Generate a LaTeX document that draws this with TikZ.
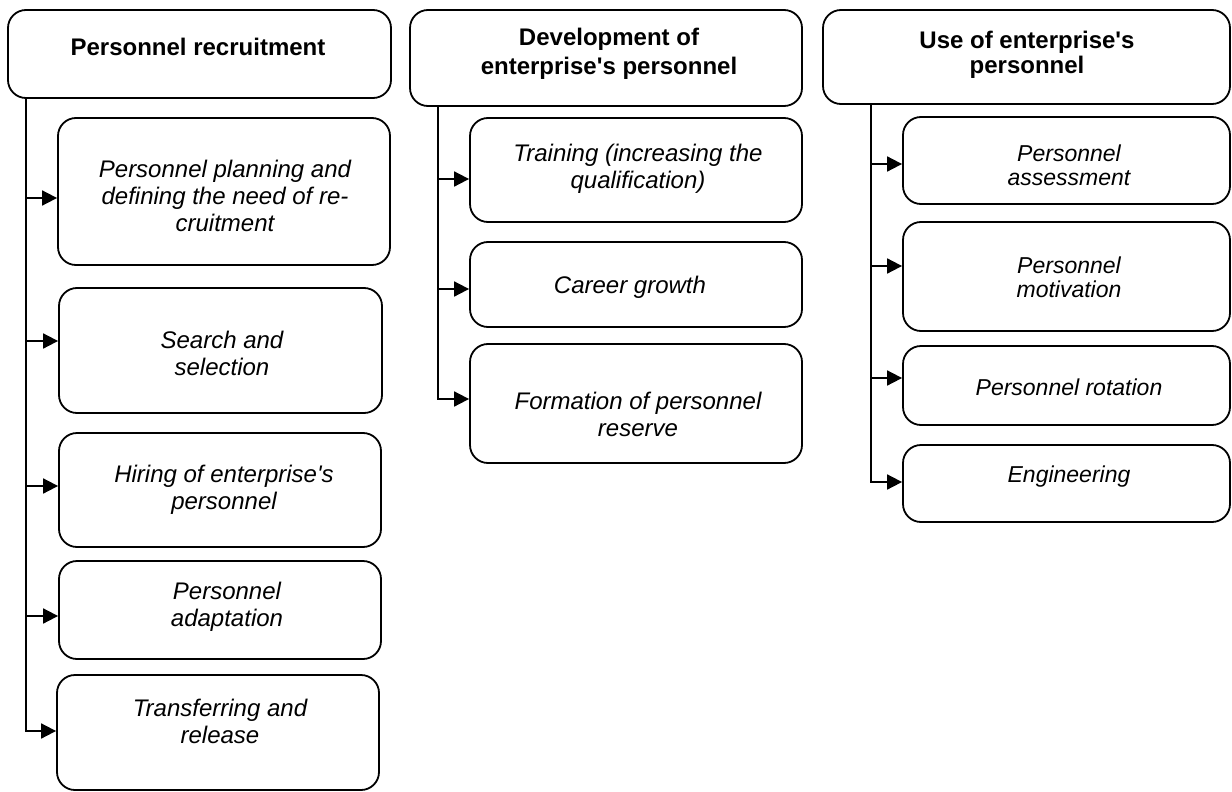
\documentclass[tikz,border=0pt]{standalone}
\usepackage{fontspec}
\setmainfont{Liberation Sans}[Ligatures=TeXOff]
\usetikzlibrary{arrows.meta}
\begin{document}
\begin{tikzpicture}[x=1pt,y=-1pt,
  box/.style={draw, line width=1.8pt, rounded corners=18pt, inner sep=0pt},
  hdr/.style={font=\fontsize{24}{29}\selectfont\bfseries, align=center, inner sep=0pt},
  txt/.style={font=\fontsize{24}{27}\selectfont\itshape, align=center, inner sep=0pt},
  txtc/.style={font=\fontsize{23}{24}\selectfont\itshape, align=center, inner sep=0pt},
  arr/.style={line width=1.8pt, -{Triangle[length=15pt,width=15pt]}}]
\useasboundingbox (0,0) rectangle (1232,792);
% boxes: (x1,y1) rectangle (x2,y2)
\newcommand\mybox[5]{\node[box, minimum width={#4-#2}, minimum height={#5-#3}] (#1) at ({(#2+#4)/2},{(#3+#5)/2}) {};}
% column 1
\mybox{H1}{8}{10}{391}{98}
\mybox{A1}{58}{118}{390}{265}
\mybox{A2}{59}{288}{382}{413}
\mybox{A3}{59}{433}{381}{547}
\mybox{A4}{59}{561}{381}{659}
\mybox{A5}{57}{675}{379}{790}
\node[hdr] (H1t) at (198,47) {Personnel recruitment};
\node[txt] (A1t) at (225,196) {Personnel planning and\\defining the need of re-\\cruitment};
\node[txt] (A2t) at (222,353) {Search and\\selection};
\node[txt] (A3t) at (224,490) {Hiring of enterprise's\\personnel};
\node[txt] (A4t) at (227,607) {Personnel\\adaptation};
\node[txt] (A5t) at (220,721) {Transferring and\\release};
% column 2
\mybox{H2}{410}{10}{802}{106}
\mybox{B1}{470}{118}{802}{222}
\mybox{B2}{470}{242}{802}{327}
\mybox{B3}{470}{344}{802}{463}
\node[hdr] (H2t) at (609,54) {Development of\\enterprise's personnel};
\node[txt] (B1t) at (638,169) {Training (increasing the\\qualification)};
\node[txt] (B2t) at (630,287) {Career growth};
\node[txt] (B3t) at (638,414) {Formation of personnel\\reserve};
% column 3
\mybox{H3}{823}{10}{1230}{104}
\mybox{C1}{903}{117}{1230}{204}
\mybox{C2}{903}{222}{1230}{331}
\mybox{C3}{903}{346}{1230}{425}
\mybox{C4}{903}{445}{1230}{522}
\node[hdr, font=\fontsize{24}{25}\selectfont\bfseries] (H3t) at (1027,55) {Use of enterprise's\\personnel};
\node[txtc] (C1t) at (1069,165) {Personnel\\assessment};
\node[txtc] (C2t) at (1069,277) {Personnel\\motivation};
\node[txtc] (C3t) at (1069,387) {Personnel rotation};
\node[txtc] (C4t) at (1069,477) {Engineering};
% trunks
\coordinate (T1) at (26,98);
\coordinate (T2) at (438,106);
\coordinate (T3) at (871,104);
% column 1 connectors
\draw[arr] (T1) |- ([yshift=1.5pt]A5.west);
\draw[arr] ([yshift=-6.5pt]A1.west -| T1) -- ([yshift=-6.5pt]A1.west);
\draw[arr] ([yshift=9.5pt]A2.west -| T1) -- ([yshift=9.5pt]A2.west);
\draw[arr] ([yshift=4pt]A3.west -| T1) -- ([yshift=4pt]A3.west);
\draw[arr] ([yshift=-6pt]A4.west -| T1) -- ([yshift=-6pt]A4.west);
% column 2 connectors
\draw[arr] (T2) |- ([yshift=4.5pt]B3.west);
\draw[arr] ([yshift=-9pt]B1.west -| T2) -- ([yshift=-9pt]B1.west);
\draw[arr] ([yshift=-4.5pt]B2.west -| T2) -- ([yshift=-4.5pt]B2.west);
% column 3 connectors
\draw[arr] (T3) |- ([yshift=1.5pt]C4.west);
\draw[arr] ([yshift=-3.5pt]C1.west -| T3) -- ([yshift=-3.5pt]C1.west);
\draw[arr] ([yshift=10.5pt]C2.west -| T3) -- ([yshift=10.5pt]C2.west);
\draw[arr] ([yshift=7.5pt]C3.west -| T3) -- ([yshift=7.5pt]C3.west);
\end{tikzpicture}
\end{document}
